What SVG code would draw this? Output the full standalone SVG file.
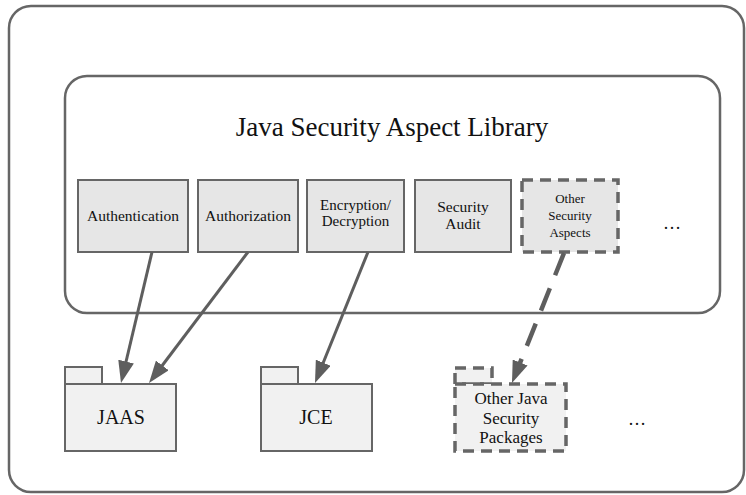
<svg xmlns="http://www.w3.org/2000/svg" width="746" height="495" viewBox="0 0 746 495">
<style>
.frame{fill:#fff;stroke:#666;stroke-width:2.5}
.box{fill:#e6e6e6;stroke:#666;stroke-width:2}
.dbox{fill:#e6e6e6;stroke:#666;stroke-width:3.5;stroke-dasharray:11 7}
.folder{fill:#f1f1f1;stroke:#666;stroke-width:2}
.dfolder{fill:#f1f1f1;stroke:#666;stroke-width:3.5;stroke-dasharray:11 7}
.t{font-family:'Liberation Serif','Times New Roman',serif;fill:#111;text-anchor:middle}
.conn{stroke:#5e5e5e;stroke-width:3;fill:none}
.dconn{stroke:#5e5e5e;stroke-width:4.5;fill:none;stroke-dasharray:24 14}
</style>
<defs>
<marker id="ah" markerUnits="userSpaceOnUse" markerWidth="22" markerHeight="16" refX="2" refY="8" orient="auto">
<path d="M0,0 L22,8 L0,16 z" fill="#5e5e5e"/>
</marker>
</defs>
<rect class="frame" x="9" y="6" width="735" height="486" rx="22"/>
<g id="library">
<rect class="frame" x="65" y="76" width="655" height="237" rx="22"/>
<text class="t" x="392" y="136" font-size="27">Java Security Aspect Library</text>
</g>
<g id="authentication">
<rect class="box" x="78" y="180" width="110" height="72"/>
<text class="t" x="133" y="221" font-size="15.5">Authentication</text>
</g>
<g id="authorization">
<rect class="box" x="198" y="180" width="100" height="72"/>
<text class="t" x="248" y="221" font-size="15.5">Authorization</text>
</g>
<g id="encryption">
<rect class="box" x="307" y="180" width="97" height="72"/>
<text class="t" x="355.5" y="210" font-size="15">Encryption/</text>
<text class="t" x="355.5" y="226" font-size="15">Decryption</text>
</g>
<g id="audit">
<rect class="box" x="415" y="180" width="96" height="72"/>
<text class="t" x="463" y="212" font-size="15.5">Security</text>
<text class="t" x="463" y="229" font-size="15.5">Audit</text>
</g>
<g id="other-aspects">
<rect class="dbox" x="522" y="180" width="96" height="72"/>
<text class="t" x="570" y="203" font-size="13">Other</text>
<text class="t" x="570" y="220" font-size="13">Security</text>
<text class="t" x="570" y="237" font-size="13">Aspects</text>
</g>
<text class="t" x="672" y="229" font-size="18">…</text>
<g id="jaas">
<rect class="folder" x="65" y="367" width="37" height="17"/>
<rect class="folder" x="65" y="384" width="111" height="67"/>
<text class="t" x="121" y="424" font-size="20">JAAS</text>
</g>
<g id="jce">
<rect class="folder" x="261" y="367" width="37" height="17"/>
<rect class="folder" x="261" y="384" width="111" height="67"/>
<text class="t" x="316" y="424" font-size="20">JCE</text>
</g>
<g id="other-packages">
<rect class="dfolder" x="455" y="368" width="37" height="16"/>
<rect class="dfolder" x="455" y="384" width="111" height="67"/>
<text class="t" x="511" y="404" font-size="17">Other Java</text>
<text class="t" x="511" y="424" font-size="17">Security</text>
<text class="t" x="511" y="443" font-size="17">Packages</text>
</g>
<text class="t" x="637" y="425" font-size="18">…</text>
<g id="connectors">
<line class="conn" x1="152" y1="252" x2="125.6" y2="363.5" marker-end="url(#ah)"/>
<line class="conn" x1="248" y1="252" x2="161.1" y2="367" marker-end="url(#ah)"/>
<line class="conn" x1="368" y1="252" x2="322.5" y2="364.5" marker-end="url(#ah)"/>
<line class="dconn" x1="564" y1="253" x2="519.4" y2="364.4" marker-end="url(#ah)"/>
</g>
</svg>
